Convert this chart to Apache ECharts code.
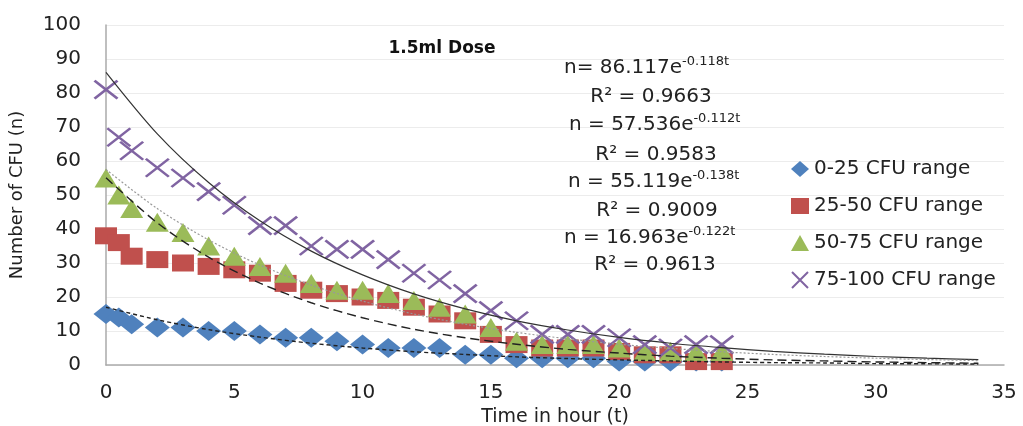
<!DOCTYPE html>
<html><head><meta charset="utf-8">
<script src="https://cdn.jsdelivr.net/npm/echarts@6/dist/echarts.min.js"></script>
<style>html,body{margin:0;padding:0;background:#fff}#c{width:1023px;height:426px}</style>
</head><body><div id="c"></div>
<script>
// ---- data ----
const hours = [0, 0.5, 1, 2, 3, 4, 5, 6, 7, 8, 9, 10, 11, 12, 13, 14, 15, 16, 17, 18, 19, 20, 21, 22, 23, 24];
const range0to25   = [15, 14, 12, 11, 11, 10, 10, 9, 8, 8, 7, 6, 5, 5, 5, 3, 3, 2, 2, 2, 2, 1, 1, 1, 1, 1];
const range25to50  = [38, 36, 32, 31, 30, 29, 28, 27, 24, 22, 21, 20, 19, 17, 15, 13, 9, 6, 5, 5, 5, 4, 3, 3, 1, 1];
const range50to75  = [55, 50, 46, 42, 39, 35, 32, 29, 27, 24, 22, 22, 21, 19, 17, 15, 11, 7, 6, 6, 6, 5, 4, 4, 4, 4];
const range75to100 = [81, 67, 63, 58, 55, 51, 47, 41, 41, 35, 34, 34, 31, 27, 25, 21, 16, 13, 9, 9, 9, 8, 6, 5, 6, 6];
const seriesNames = ['0-25 CFU range', '25-50 CFU range', '50-75 CFU range', '75-100 CFU range'];

// trend curves at every 2 hours
const trendHours = [0, 2, 4, 6, 8, 10, 12, 14, 16, 18, 20, 22, 24, 26, 28, 30, 32, 34];
const trendSolid      = [86.1, 68.0, 53.7, 42.4, 33.5, 26.5, 20.9, 16.5, 13.0, 10.3, 8.1, 6.4, 5.1, 4.0, 3.2, 2.5, 2.0, 1.6];
const trendDotted     = [57.5, 46.0, 36.8, 29.4, 23.5, 18.8, 15.0, 12.0, 9.6, 7.7, 6.1, 4.9, 3.9, 3.1, 2.5, 2.0, 1.6, 1.3];
const trendLongDash   = [55.1, 41.8, 31.7, 24.1, 18.3, 13.9, 10.5, 8.0, 6.1, 4.6, 3.5, 2.6, 2.0, 1.5, 1.2, 0.9, 0.7, 0.5];
const trendShortDash  = [17.0, 13.3, 10.4, 8.2, 6.4, 5.0, 3.9, 3.1, 2.4, 1.9, 1.5, 1.2, 0.9, 0.7, 0.6, 0.4, 0.35, 0.27];

const eqCoefs = ['n= 86.117e', 'n = 57.536e', 'n = 55.119e', 'n = 16.963e'];
const eqExps  = ['-0.118t', '-0.112t', '-0.138t', '-0.122t'];
const eqR2    = ['R² = 0.9663', 'R² = 0.9583', 'R² = 0.9009', 'R² = 0.9613'];
const chartTitle = '1.5ml Dose';
const xName = 'Time in hour (t)';
const yName = 'Number of CFU (n)';

// ---- chart ----
const FONT = 'DejaVu Sans';
const pair = (xs, ys) => xs.map((x, i) => [x, ys[i]]);
const chart = echarts.init(document.getElementById('c'));

const markers = [
  {data: range0to25, symbol: 'diamond', size: [25, 20], color: '#4F81BD'},
  {data: range25to50, symbol: 'rect', size: [22, 17], color: '#C0504D'},
  {data: range50to75, symbol: 'triangle', size: [23, 19], color: '#9BBB59'},
  {data: range75to100, symbol: 'path://M0,0L10,10M10,0L0,10', size: [23, 18], color: '#8064A2', cross: true}
];
const scatterSeries = markers.map((m, i) => ({
  name: seriesNames[i], type: 'scatter', data: pair(hours, m.data),
  symbol: m.symbol, symbolSize: m.size,
  itemStyle: m.cross ? {color: 'transparent', borderColor: m.color, borderWidth: 2.5, opacity: 1} : {color: m.color, opacity: 1},
  emphasis: {disabled: true},
  z: 2 + i
}));

const trends = [
  {data: trendSolid, type: 'solid', color: '#333', width: 1.2},
  {data: trendDotted, type: [2, 2], color: '#999', width: 1.2},
  {data: trendLongDash, type: [9, 5], color: '#222', width: 1.4},
  {data: trendShortDash, type: [4, 3], color: '#222', width: 1.4}
];
const trendSeries = trends.map(t => ({
  type: 'line', data: pair(trendHours, t.data), smooth: 0.3, symbol: 'none', silent: true,
  lineStyle: {color: t.color, width: t.width, type: t.type}, z: 10
}));

const eqGraphics = [];
const eqY = [70, 127, 184, 240];
const r2Y = [97, 155, 211, 265];
const eqX = [564, 569, 568, 564];
const r2X = [651, 656, 657, 655];
for (let i = 0; i < 4; i++) {
  eqGraphics.push({
    type: 'text', left: eqX[i], top: eqY[i] - 15, z: 20,
    style: {
      text: '{a|' + eqCoefs[i] + '}{s|' + eqExps[i] + '}',
      rich: {
        a: {fontFamily: FONT, fontSize: 20, fill: '#222', lineHeight: 26},
        s: {fontFamily: FONT, fontSize: 13, fill: '#222', padding: [0, 0, 13, 0], lineHeight: 26}
      }
    }
  });
  eqGraphics.push({
    type: 'text', x: r2X[i], y: r2Y[i], z: 20,
    style: {text: eqR2[i], fontFamily: FONT, fontSize: 20, fill: '#222', align: 'center', verticalAlign: 'middle'}
  });
}

chart.setOption({
  backgroundColor: '#fff',
  animation: false,
  title: {
    text: chartTitle, left: 437, top: 44, textAlign: 'center', textVerticalAlign: 'middle',
    textStyle: {fontFamily: FONT, fontSize: 17, fontWeight: 'bold', color: '#111'}
  },
  grid: {left: 106, right: 19, top: 25, bottom: 61, containLabel: false, outerBoundsMode: 'none'},
  legend: {
    data: seriesNames, orient: 'vertical', left: 786, top: 154,
    itemWidth: 18, itemHeight: 16, itemGap: 17,
    textStyle: {fontFamily: FONT, fontSize: 20, color: '#222'}
  },
  xAxis: {
    type: 'value', min: 0, max: 35, interval: 5,
    axisLine: {show: true, lineStyle: {color: '#aaa', width: 1.5}},
    axisTick: {show: false}, splitLine: {show: false},
    axisLabel: {fontFamily: FONT, fontSize: 20, color: '#222', margin: 18},
    name: xName, nameLocation: 'middle', nameGap: 40,
    nameTextStyle: {fontFamily: FONT, fontSize: 19, color: '#222'}
  },
  yAxis: {
    type: 'value', min: 0, max: 100, interval: 10,
    axisLine: {show: true, lineStyle: {color: '#aaa', width: 1.5}},
    axisTick: {show: false},
    splitLine: {show: true, lineStyle: {color: '#ececec', width: 1}},
    axisLabel: {fontFamily: FONT, fontSize: 20, color: '#222', margin: 25},
    name: yName, nameLocation: 'middle', nameGap: 80, nameRotate: 90,
    nameTextStyle: {fontFamily: FONT, fontSize: 18, color: '#222'}
  },
  graphic: eqGraphics,
  series: scatterSeries.concat(trendSeries)
});
</script></body></html>
